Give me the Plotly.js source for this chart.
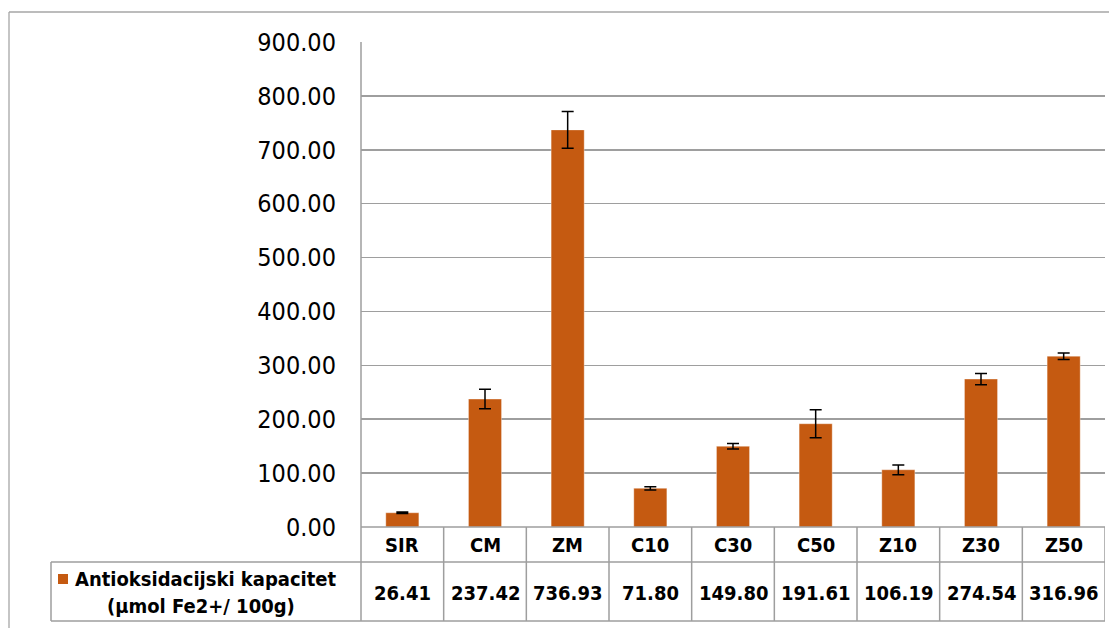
<!DOCTYPE html>
<html>
<head>
<meta charset="utf-8">
<script src="https://cdn.plot.ly/plotly-3.0.1.min.js"></script>
<style>
  html, body { margin: 0; padding: 0; background: #ffffff; }
  #chart { width: 1109px; height: 628px; }
</style>
</head>
<body>
<div id="chart"></div>
<script>
// ---- data ----
const categories = ["SIR", "CM", "ZM", "C10", "C30", "C50", "Z10", "Z30", "Z50"];
const values = [26.41, 237.42, 736.93, 71.80, 149.80, 191.61, 106.19, 274.54, 316.96];
const errors = [1.5, 18, 34, 3, 5, 26, 9, 10.5, 6];
const yTicks = [0, 100, 200, 300, 400, 500, 600, 700, 800, 900];
const seriesLabel = "Antioksidacijski kapacitet";
const unitLabel = "(µmol Fe2+/ 100g)";

// ---- style ----
const barColor = "#C55A11";
const lineColor = "#9E9E9E";
const gridColor = "#9E9E9E";
const fontFam = "'DejaVu Sans Condensed', 'DejaVu Sans', sans-serif";

const plotL = 361, plotR = 1105, plotT = 42, plotB = 527;
const W = 1109, H = 628;
const pw = plotR - plotL, ph = plotB - plotT;
const px = X => (X - plotL) / pw;     // pixel x -> paper x
const py = Y => (plotB - Y) / ph;     // pixel y -> paper y

const trace = {
  type: "bar",
  x: categories,
  y: values,
  width: 0.4,
  marker: { color: barColor, line: { color: "rgba(255,255,255,0.35)", width: 1 } },
  error_y: { type: "data", array: errors, visible: true, color: "#000000", thickness: 1.5, width: 6 },
  hoverinfo: "x+y"
};

const shapes = [];
const tableBottom = py(621), rowLine = py(562);
const lw = 1.5;
// vertical separators between categories in the table
for (let i = 0; i < categories.length; i++) {
  shapes.push({ type: "line", xref: "x", yref: "paper", x0: i + 0.5, x1: i + 0.5, y0: 0, y1: tableBottom,
    line: { color: lineColor, width: lw } });
}
// left axis line, from top of plot to bottom of table
shapes.push({ type: "line", xref: "paper", yref: "paper", x0: 0, x1: 0, y0: 1, y1: tableBottom, line: { color: lineColor, width: lw } });
// horizontal lines of the table
shapes.push({ type: "line", xref: "paper", yref: "paper", x0: 0, x1: 1, y0: 0, y1: 0, line: { color: lineColor, width: lw } });
shapes.push({ type: "line", xref: "paper", yref: "paper", x0: px(51), x1: 1, y0: rowLine, y1: rowLine, line: { color: lineColor, width: lw } });
shapes.push({ type: "line", xref: "paper", yref: "paper", x0: px(51), x1: 1, y0: tableBottom, y1: tableBottom, line: { color: lineColor, width: lw } });
shapes.push({ type: "line", xref: "paper", yref: "paper", x0: px(51), x1: px(51), y0: rowLine, y1: tableBottom, line: { color: lineColor, width: lw } });
// outer chart border (top + left)
shapes.push({ type: "line", xref: "paper", yref: "paper", x0: px(9), x1: px(1109), y0: py(12), y1: py(12), line: { color: "#A6A6A6", width: 1.3 } });
shapes.push({ type: "line", xref: "paper", yref: "paper", x0: px(9), x1: px(9), y0: py(12), y1: py(640), line: { color: "#A6A6A6", width: 1.3 } });
// legend key square
shapes.push({ type: "rect", xref: "paper", yref: "paper", x0: px(58), x1: px(68), y0: py(574), y1: py(584),
  fillcolor: barColor, line: { width: 0 } });

const annotations = [];
categories.forEach((c, i) => {
  annotations.push({ x: c, xref: "x", y: py(545), yref: "paper", text: "<b>" + c + "</b>", showarrow: false,
    xanchor: "center", yanchor: "middle", font: { family: fontFam, size: 20, color: "#000" } });
  annotations.push({ x: c, xref: "x", y: py(593), yref: "paper", text: "<b>" + values[i].toFixed(2) + "</b>", showarrow: false,
    xanchor: "center", yanchor: "middle", font: { family: fontFam, size: 20, color: "#000" } });
});
annotations.push({ x: px(73), xref: "paper", y: py(579), yref: "paper", text: "<b>" + seriesLabel + "</b>", showarrow: false,
  xanchor: "left", yanchor: "middle", font: { family: fontFam, size: 20, color: "#000" } });
annotations.push({ x: px(201), xref: "paper", y: py(606), yref: "paper", text: "<b>" + unitLabel + "</b>", showarrow: false,
  xanchor: "center", yanchor: "middle", font: { family: fontFam, size: 20, color: "#000" } });

const layout = {
  width: W, height: H,
  margin: { l: plotL, r: W - plotR, t: plotT, b: H - plotB, pad: 0 },
  paper_bgcolor: "#ffffff", plot_bgcolor: "#ffffff",
  showlegend: false,
  bargap: 0.6,
  xaxis: { type: "category", showticklabels: false, ticks: "", showgrid: false, zeroline: false, showline: false,
    range: [-0.5, categories.length - 0.5], fixedrange: true },
  yaxis: { range: [0, 900], tickvals: yTicks, ticktext: yTicks.map(v => v.toFixed(2)),
    showgrid: true, gridcolor: gridColor, gridwidth: lw, zeroline: false, showline: false, ticks: "",
    ticklabelstandoff: 24,
    tickfont: { family: fontFam, size: 25, color: "#000" }, fixedrange: true },
  shapes: shapes,
  annotations: annotations
};

Plotly.newPlot("chart", [trace], layout, { displayModeBar: false, staticPlot: true });
</script>
</body>
</html>
